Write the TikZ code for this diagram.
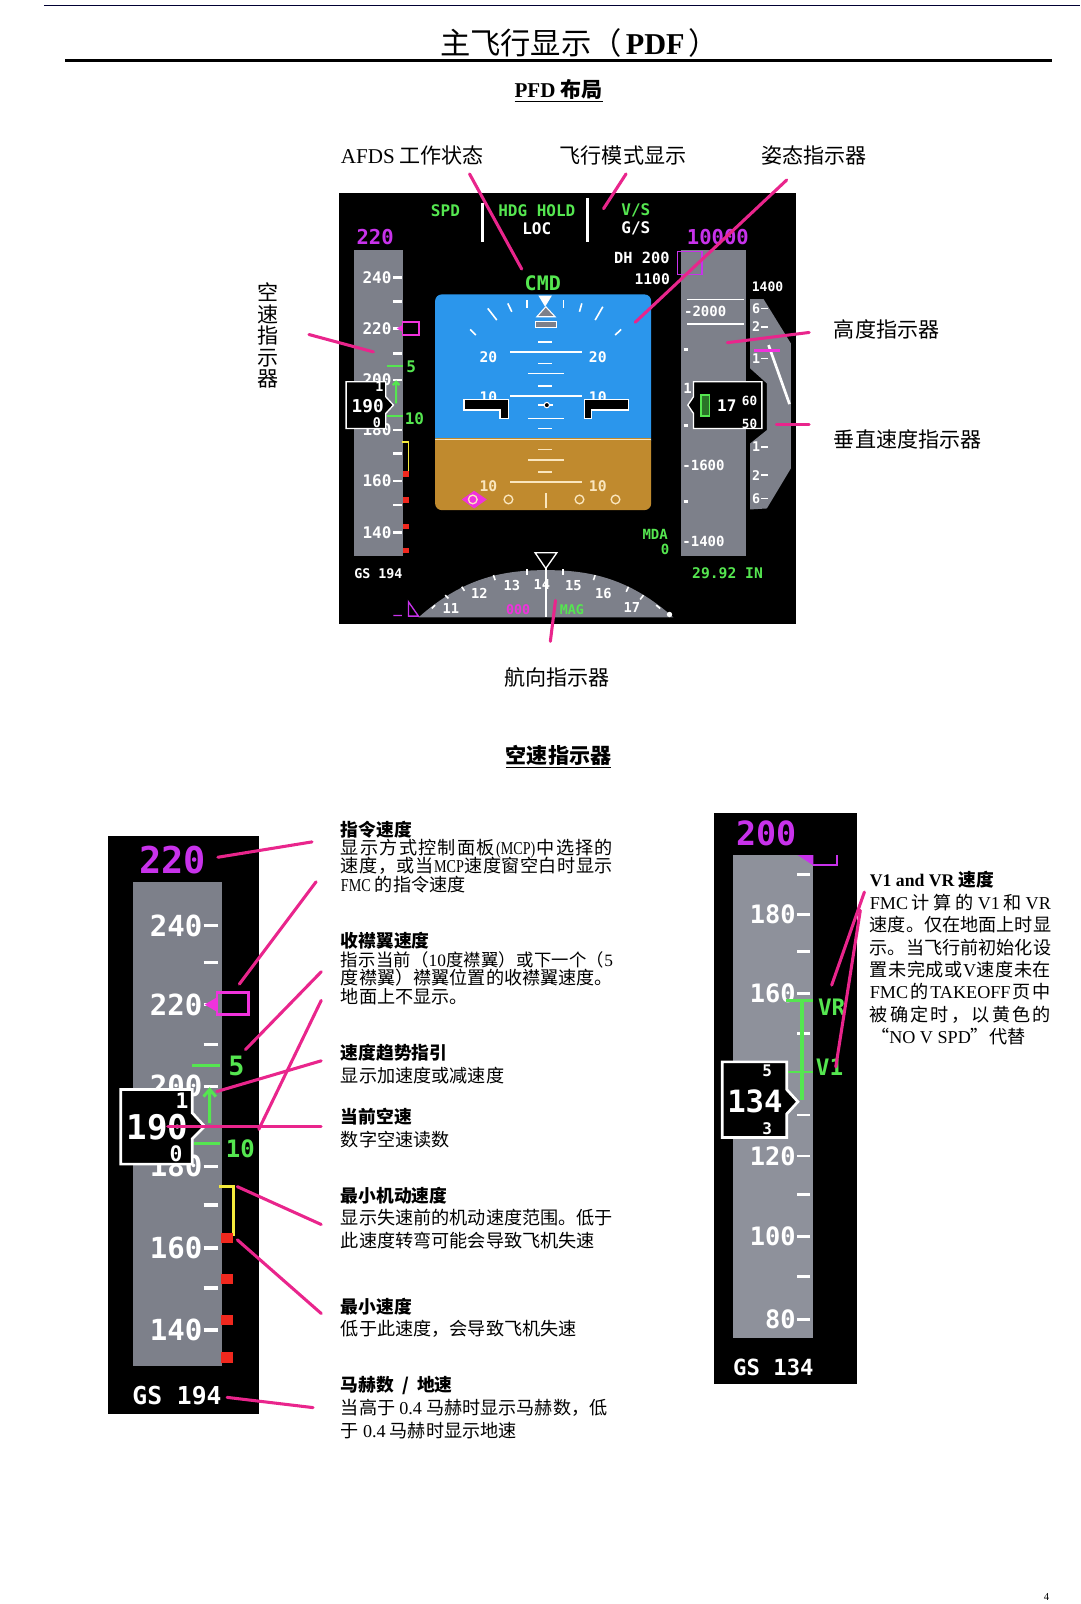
\documentclass[tikz,border=0pt]{standalone}
\usepackage{fontspec}
\setmainfont{Liberation Serif}
\newfontfamily\cjk{Noto Sans CJK SC}
\newfontfamily\pfdfont{DejaVu Sans Mono}
\newfontfamily\latnarrow[FakeStretch=0.78]{Liberation Serif}
\newcommand{\la}[1]{{\rmfamily #1}}
\newcommand{\lan}[1]{{\latnarrow #1}}
\newcommand{\fitline}[2]{\makebox[#1][s]{\spaceskip=0pt plus 1fil\relax #2}}
\newcommand{\tightlines}{\lineskiplimit=-5pt\relax}
\usetikzlibrary{positioning}
\definecolor{leaderpink}{RGB}{233,37,140}
\definecolor{pfdgreen}{RGB}{85,230,80}
\definecolor{pfdmagenta}{RGB}{200,50,235}
\definecolor{bugpink}{RGB}{240,50,220}
\definecolor{tapegray}{RGB}{125,128,138}
\definecolor{lighttape}{RGB}{142,145,155}
\definecolor{skyblue}{RGB}{43,150,236}
\definecolor{groundbrown}{RGB}{192,138,46}
\definecolor{pfdred}{RGB}{240,40,30}
\definecolor{pfdyellow}{RGB}{245,235,60}
\definecolor{cream}{RGB}{250,230,190}
\tikzset{
  pointer/.style={draw=leaderpink, line width=2.3pt, line cap=round},
  pfd/.style={inner sep=0pt, white, font=\pfdfont\bfseries\fontsize{#1}{#1}\selectfont},
  tick/.style={draw=white, line width=1.2pt},
  bigtick/.style={draw=white, line width=2pt},
  callout/.style={inner sep=0pt, anchor=west, font=\cjk\fontsize{15.8}{18}\selectfont},
  headtext/.style={inner sep=0pt, anchor=west, font=\cjk\bfseries\fontsize{13.3}{15}\selectfont},
  bodytight/.style={inner sep=0pt, anchor=north west, align=left, font=\cjk\fontsize{13.6}{13.8}\selectfont\tightlines},
  bodyloose/.style={inner sep=0pt, anchor=north west, align=left, font=\cjk\fontsize{13.6}{16.7}\selectfont},
}
\begin{document}
\begin{tikzpicture}[x=0.76705pt, y=-0.76705pt]
\useasboundingbox (0,0) rectangle (1056,1568);
% Page head
\draw[black!80!blue, line width=0.8pt] (43,5) -- (1056,5);
\node[inner sep=0pt, anchor=west, font=\cjk\fontsize{22.7}{24}\selectfont] (pagetitle) at (430,42)
  {主飞行显示（\hspace{3pt}\la{\bfseries PDF}\hspace{3pt}）};
\draw[black, line width=2pt] (64,59) -- (1028,59);
\node[inner sep=0pt, font=\cjk\bfseries\fontsize{15.8}{18}\selectfont] (layouthead) at (546,89)
  {\underline{\la{PFD} 布局}};
\node[callout] (afdslabel) at (333,152) {\la{AFDS} 工作状态};
\node[callout] (fmalabel) at (547,152) {飞行模式显示};
\node[callout] (attlabel) at (744,152) {姿态指示器};
\node[callout] (altlabel) at (815,322) {高度指示器};
\node[callout] (vsilabel) at (815,430) {垂直速度指示器};
\node[callout] (hdglabel) at (493,662) {航向指示器};
\node[inner sep=0pt, align=center, font=\cjk\fontsize{15.8}{16.1}\selectfont] (spdlabel) at (262,328)
  {空\\速\\指\\示\\器};
\node[inner sep=0pt, font=\cjk\bfseries\fontsize{15.8}{18}\selectfont] (spdhead) at (546,740)
  {\underline{空速指示器}};
% Full display, in its own finer grid
\begin{scope}[shift={(312.9,176)}, x=0.25pt, y=-0.25pt]
\fill[black] (56,40) rectangle (1428,1332);
\fill[tapegray] (101,210) rectangle (249,1127);
\fill[tapegray] (1083,210) rectangle (1278,1127);
\fill[tapegray] (1290,357) -- (1330,357) -- (1412,490) -- (1412,865) -- (1340,985) -- (1290,988)
  -- (1290,790) -- (1340,750) -- (1340,610) -- (1290,565) -- cycle;
% Mode line
\node[pfd=12, pfdgreen] (fmaspd) at (376,92) {SPD};
\node[pfd=12, pfdgreen] (fmahdg) at (650,92) {HDG HOLD};
\node[pfd=12] (fmaloc) at (650,145) {LOC};
\node[pfd=12, pfdgreen] (fmavs) at (947,92) {V/S};
\node[pfd=12] (fmags) at (947,145) {G/S};
\draw[bigtick] (487,70) -- (487,187);
\draw[bigtick] (802,55) -- (802,187);
\node[pfd=15.4, pfdmagenta] (selspd) at (165,172) {220};
\node[pfd=15.4, pfdmagenta] (selalt) at (1193,172) {10000};
\node[pfd=11.5] (dhval) at (965,235) {DH 200};
\node[pfd=11, anchor=east] (dhalt) at (1050,298) {1100};
\draw[pfdmagenta, line width=1pt] (1072,215) rectangle (1145,283);
\node[pfd=15, pfdgreen] (cmdmode) at (668,310) {CMD};
% Speed tape
\foreach \y/\t in {293/240,445/220,600/200,750/180,903/160,1058/140} {
  \node[pfd=12, anchor=east] (tape\t) at (215,\y) {\t};
  \draw[bigtick] (218,\y) -- (245,\y);
}
\foreach \y in {365,520,820,975} \draw[bigtick] (218,\y) -- (245,\y);
\draw[bugpink, line width=1.2pt] (247,425) rectangle (297,465);
\fill[bugpink] (247,435) -- (230,445) -- (247,455) -- cycle;
\draw[pfdgreen, line width=1.4pt] (200,557) -- (248,557);
\draw[pfdgreen, line width=1.4pt] (200,707) -- (248,707);
\node[pfd=12, pfdgreen] (flaps5) at (273,560) {5};
\node[pfd=12, pfdgreen] (flaps10) at (283,716) {10};
\draw[pfdgreen, line width=1.5pt] (228,670) -- (228,605) (218,615) -- (228,605) -- (238,615);
\draw[draw=white, fill=black, line width=1pt] (78,605) -- (197,605) -- (197,650) -- (220,675) -- (197,700)
  -- (197,745) -- (78,745) -- cycle;
\node[pfd=13.3] (curspd) at (143,677) {190};
\node[pfd=10] (curspdup) at (178,620) {1};
\node[pfd=10] (curspddn) at (170,728) {0};
\draw[pfdyellow, line width=1.3pt] (245,785) -- (265,785) -- (265,875);
\foreach \y in {882,960,1040,1112} \fill[pfdred] (248,\y-8) rectangle (267,\y+8);
\node[pfd=10] (gsval) at (175,1182) {GS 194};
% Attitude
\fill[skyblue, rounded corners=5pt] (345,343) rectangle (993,800);
\fill[groundbrown, rounded corners=5pt] (345,760) rectangle (993,990);
\fill[skyblue] (345,760) rectangle (993,775);
\draw[cream, line width=1pt] (345,778) -- (993,778);
\foreach \xa/\ya/\xb/\yb in {503/385/530/420, 563/370/575/395, 620/360/620/385, 730/360/730/385,
  785/370/778/395, 848/380/825/420, 450/448/467/465, 903/448/885/465} {
  \draw[tick] (\xa,\ya) -- (\xb,\yb);
}
\fill[white] (655,347) -- (695,347) -- (675,380) -- cycle;
\draw[draw=white, fill=tapegray, line width=0.8pt] (650,410) -- (705,410) -- (677,380) -- cycle;
\draw[draw=white, fill=tapegray, line width=0.8pt] (645,423) rectangle (710,443);
\foreach \xa/\xb/\y in {655/697/485, 570/787/515, 655/697/550, 623/733/580, 655/697/617, 570/787/647,
  623/733/715, 655/697/745} {
  \draw[tick] (\xa,\y) -- (\xb,\y);
}
\foreach \xa/\xb/\y in {655/697/808, 623/733/840, 655/697/875, 570/787/905} {
  \draw[cream, line width=1.2pt] (\xa,\y) -- (\xb,\y);
}
\node[pfd=11] (pitchl20) at (505,530) {20};
\node[pfd=11] (pitchr20) at (833,530) {20};
\node[pfd=11] (pitchl10) at (505,652) {10};
\node[pfd=11] (pitchr10) at (833,652) {10};
\node[pfd=11, cream] (pitchl10b) at (505,918) {10};
\node[pfd=11, cream] (pitchr10b) at (833,918) {10};
\draw[draw=white, fill=black, line width=1pt] (432,658) -- (565,658) -- (565,715) -- (540,715) -- (540,690)
  -- (432,690) -- cycle;
\draw[draw=white, fill=black, line width=1pt] (793,658) -- (925,658) -- (925,690) -- (815,690) -- (815,715)
  -- (793,715) -- cycle;
\draw[tick] (655,675) -- (700,675);
\draw[draw=white, fill=black, line width=0.8pt] (680,675) circle (8);
% Localizer scale
\fill[bugpink] (425,958) -- (462,932) -- (500,958) -- (462,985) -- cycle;
\foreach \x in {458,565,778,886} \draw[cream, line width=1pt] (\x,958) circle (13);
\draw[cream, line width=1.2pt] (677,940) -- (677,985);
% Heading arc
\fill[tapegray] (295,1312) .. controls (430,1192) and (550,1170) .. (677,1170)
  .. controls (805,1170) and (925,1192) .. (1060,1312) -- cycle;
\foreach \xa/\ya/\xb/\yb in {335/1285/345/1275, 375/1245/385/1255, 425/1220/433/1232, 520/1185/525/1200,
  620/1168/620/1185, 728/1168/728/1185, 825/1185/820/1200, 925/1220/918/1235, 970/1245/960/1258, 1020/1285/1008/1275} {
  \draw[tick] (\xa,\ya) -- (\xb,\yb);
}
\node[pfd=10.3] (hdg11) at (392,1285) {11};
\node[pfd=10.3] (hdg12) at (478,1240) {12};
\node[pfd=10.3] (hdg13) at (575,1215) {13};
\node[pfd=10.3] (hdg14) at (665,1212) {14};
\node[pfd=10.3] (hdg15) at (760,1215) {15};
\node[pfd=10.3] (hdg16) at (850,1240) {16};
\node[pfd=10.3] (hdg17) at (935,1282) {17};
\node[pfd=10, bugpink] (hdgsel) at (594,1288) {000};
\node[pfd=10, pfdgreen] (hdgmag) at (755,1288) {MAG};
\draw[draw=white, line width=1pt] (645,1118) -- (710,1118) -- (677,1165) -- cycle;
\draw[white, line width=1.2pt] (677,1165) -- (677,1312);
\fill[white] (1048,1303) circle (8);
\draw[pfdmagenta, line width=1pt] (265,1265) -- (295,1308) -- (265,1308) -- cycle (220,1306) -- (245,1306);
% Altitude tape
\draw[tick] (1100,358) -- (1272,358);
\draw[tick] (1100,432) -- (1272,432);
\node[pfd=10.5] (alt2000) at (1155,395) {-2000};
\node[pfd=10.5] (alt1600) at (1150,855) {-1600};
\node[pfd=10.5] (alt1400) at (1150,1085) {-1400};
\foreach \y in {508,737,965} \draw[bigtick] (1090,\y) -- (1103,\y);
\draw[draw=white, fill=black, line width=1pt] (1120,605) -- (1325,605) -- (1325,745) -- (1120,745) -- (1120,700)
  -- (1103,675) -- (1120,650) -- cycle;
\node[pfd=10.5] (altmid) at (1102,625) {1};
\draw[draw=pfdgreen, fill=black!50!pfdgreen, line width=1pt] (1142,645) rectangle (1168,708);
\node[pfd=12] (altcur) at (1220,677) {17};
\node[pfd=9.5] (altup) at (1288,662) {60};
\node[pfd=9.5] (altdn) at (1288,730) {50};
% Vertical speed
\node[pfd=9.8] (vsitop) at (1342,320) {1400};
\foreach \y/\t [count=\i] in {385/6,440/2,535/1,800/1,885/2,955/6} {
  \node[pfd=10] (vsi\i) at (1308,\y) {\t};
  \draw[tick] (1322,\y) -- (1342,\y);
}
\draw[white, line width=2pt] (1345,495) -- (1408,672);
\draw[bugpink, line width=2pt] (1300,512) -- (1380,512);
\node[pfd=10.5, pfdgreen] (mdahead) at (1005,1062) {MDA};
\node[pfd=10.5, pfdgreen] (mdaval) at (1035,1108) {0};
\node[pfd=11, pfdgreen] (baroval) at (1222,1178) {29.92 IN};
\end{scope}
% Leaders of the display
\coordinate (afdsfoot) at (459,170);
\coordinate (afdstip) at (510,263);
\coordinate (fmafoot) at (612,170);
\coordinate (fmatip) at (590,204);
\coordinate (attfoot) at (769,176);
\coordinate (atttip) at (621,315);
\coordinate (spdfoot) at (302,327);
\coordinate (spdtip) at (365,344);
\coordinate (altfoot) at (791,325);
\coordinate (alttip) at (711,335);
\coordinate (vsifoot) at (791,415);
\coordinate (vsitip) at (759,415);
\coordinate (hdgfoot) at (538,627);
\coordinate (hdgtip) at (543,587);
\foreach \a/\b in {afdsfoot/afdstip, fmafoot/fmatip, attfoot/atttip, spdfoot/spdtip, altfoot/alttip,
  vsifoot/vsitip, hdgfoot/hdgtip} {
  \draw[pointer] (\a) -- (\b);
}
% Left speed tape
\fill[black] (106,817) rectangle (253,1382);
\fill[tapegray] (130,862) rectangle (217,1335);
\node[pfd=27.7, pfdmagenta] (leftsel) at (169,841) {220};
\foreach \y/\t in {905/240,982/220,1062/200,1140/180,1220/160,1300/140} {
  \node[pfd=21.8, anchor=east] (left\t) at (198,\y) {\t};
  \draw[draw=white, line width=2.5pt] (199,\y) -- (213,\y);
}
\foreach \y in {941,1021,1178,1259} \draw[draw=white, line width=2.5pt] (199,\y) -- (213,\y);
\draw[bugpink, line width=2pt] (212,970) rectangle (243,992);
\fill[bugpink] (212,975) -- (200,982) -- (212,989) -- cycle;
\draw[pfdgreen, line width=2.2pt] (188,1042) -- (215,1042);
\draw[pfdgreen, line width=2.2pt] (190,1118) -- (215,1118);
\node[pfd=20, pfdgreen] (left5) at (231,1042) {5};
\node[pfd=18, pfdgreen] (left10) at (235,1123) {10};
\draw[pfdgreen, line width=2.2pt] (205,1098) -- (205,1065) (199,1072) -- (205,1065) -- (211,1072);
\draw[draw=white, fill=black, line width=2pt] (118,1065) -- (188,1065) -- (188,1088) -- (200,1101) -- (188,1113)
  -- (188,1138) -- (118,1138) -- cycle;
\node[pfd=25.6] (leftcur) at (154,1102) {190};
\node[pfd=16] (leftcurup) at (178,1076) {1};
\node[pfd=16] (leftcurdn) at (172,1128) {0};
\draw[pfdyellow, line width=2.2pt] (214,1160) -- (228,1160) -- (228,1208);
\foreach \y in {1210,1250,1290,1327} \fill[pfdred] (216,\y-5) rectangle (228,\y+5);
\node[pfd=18.5] (leftgs) at (173,1364) {GS 194};
% Right speed tape
\fill[black] (698,795) rectangle (838,1353);
\fill[lighttape] (717,836) rectangle (795,1308);
\node[pfd=25, pfdmagenta] (rightsel) at (749,815) {200};
\foreach \y/\t in {894/180,971/160,1130/120,1209/100,1290/80} {
  \node[pfd=19, anchor=east] (right\t) at (778,\y) {\t};
  \draw[draw=white, line width=2pt] (779,\y) -- (792,\y);
}
\foreach \y in {855,930,1010,1090,1168,1248} \draw[draw=white, line width=2pt] (779,\y) -- (792,\y);
\fill[pfdmagenta] (780,836) -- (795,836) -- (795,846) -- cycle;
\draw[pfdmagenta, line width=1.5pt] (795,846) -- (818,846) -- (818,836);
\draw[pfdgreen, line width=2.5pt] (784,978) -- (784,1075);
\draw[pfdgreen, line width=2pt] (768,978) -- (795,978);
\draw[pfdgreen, line width=2pt] (768,1048) -- (795,1048);
\node[pfd=17, pfdgreen] (rightvr) at (813,985) {VR};
\node[pfd=17, pfdgreen] (rightvone) at (811,1043) {V1};
\draw[draw=white, fill=black, line width=2pt] (706,1038) -- (769,1038) -- (769,1065) -- (780,1077) -- (769,1089)
  -- (769,1112) -- (706,1112) -- cycle;
\node[pfd=23] (rightcur) at (738,1077) {134};
\node[pfd=12] (rightcurup) at (750,1047) {5};
\node[pfd=12] (rightcurdn) at (750,1103) {3};
\node[pfd=16.7] (rightgs) at (756,1337) {GS 134};
% Speed tape notes
\node[headtext] (cmdhead) at (333,811) {指令速度};
\node[bodytight] (cmdbody) at (333,820) {\fitline{204pt}{显 示 方 式 控 制 面 板 \lan{(MCP)} 中 选 择 的}\\
  \fitline{204pt}{速 度 ， 或 当 \lan{MCP} 速 度 窗 空 白 时 显 示}\\
  \lan{FMC} 的指令速度};
\node[headtext] (flaphead) at (333,920) {收襟翼速度};
\node[bodytight] (flapbody) at (333,930) {\fitline{204pt}{\fontsize{13}{13.8}\selectfont 指 示 当 前 （ \la{10} 度 襟 翼 ） 或 下 一 个 （ \la{5}}\\
  度襟翼）襟翼位置的收襟翼速度。\\地面上不显示。};
\node[headtext] (trendhead) at (333,1029) {速度趋势指引};
\node[bodyloose] (trendbody) at (333,1043) {显示加速度或减速度};
\node[headtext] (curhead) at (333,1092) {当前空速};
\node[bodyloose] (curbody) at (333,1105) {数字空速读数};
\node[headtext] (manhead) at (333,1169) {最小机动速度};
\node[bodyloose] (manbody) at (333,1182) {显示失速前的机动速度范围。低于\\此速度转弯可能会导致飞机失速};
\node[headtext] (minhead) at (333,1277) {最小速度};
\node[bodyloose] (minbody) at (333,1290) {低于此速度，会导致飞机失速};
\node[headtext] (machhead) at (333,1354) {马赫数\hspace{3pt} / \hspace{3pt}地速};
\node[bodyloose] (machbody) at (333,1368) {当高于 \la{0.4} 马赫时显示马赫数，低\\于 \la{0.4} 马赫时显示地速};
\node[headtext] (vspdhead) at (850,860) {\la{V1 and VR} 速度};
\node[bodyloose] (vspdbody) at (850,874) {\fitline{135.8pt}{\la{FMC}   计 算 的  \la{V1}  和  \la{VR}}\\
  \fitline{135.8pt}{速 度 。 仅 在 地 面 上 时 显}\\
  \fitline{135.8pt}{示 。 当 飞 行 前 初 始 化 设}\\
  \fitline{135.8pt}{置 未 完 成 或 \la{V} 速 度 未 在}\\
  \fitline{135.8pt}{\la{FMC} 的 \la{TAKEOFF} 页 中}\\
  \fitline{135.8pt}{被 确 定 时 ， 以 黄 色 的}\\
  \hspace{1pt}“\la{NO V SPD}”代替};
% Leaders of the notes
\coordinate (cmdfoot) at (305,823);
\coordinate (cmdtip) at (213,838);
\coordinate (flapfoot) at (309,862);
\coordinate (flaptip) at (234,962);
\coordinate (fivefoot) at (314,950);
\coordinate (fivetip) at (240,1026);
\coordinate (tenfoot) at (314,978);
\coordinate (tentip) at (253,1104);
\coordinate (trendfoot) at (314,1037);
\coordinate (trendtip) at (212,1067);
\coordinate (curfoot) at (314,1101);
\coordinate (curtip) at (164,1101);
\coordinate (manfoot) at (314,1197);
\coordinate (mantip) at (232,1160);
\coordinate (minfoot) at (314,1284);
\coordinate (mintip) at (232,1212);
\coordinate (machfoot) at (306,1376);
\coordinate (machtip) at (222,1366);
\coordinate (vrfoot) at (845,872);
\coordinate (vrtip) at (813,963);
\coordinate (vonefoot) at (841,890);
\coordinate (vonetip) at (817,1043);
\foreach \a/\b in {cmdfoot/cmdtip, flapfoot/flaptip, fivefoot/fivetip, tenfoot/tentip, trendfoot/trendtip,
  curfoot/curtip, manfoot/mantip, minfoot/mintip, machfoot/machtip, vrfoot/vrtip, vonefoot/vonetip} {
  \draw[pointer] (\a) -- (\b);
}
\node[inner sep=0pt, font=\fontsize{8}{9}\selectfont] (pagenum) at (1023,1561) {4};
\end{tikzpicture}
\end{document}
